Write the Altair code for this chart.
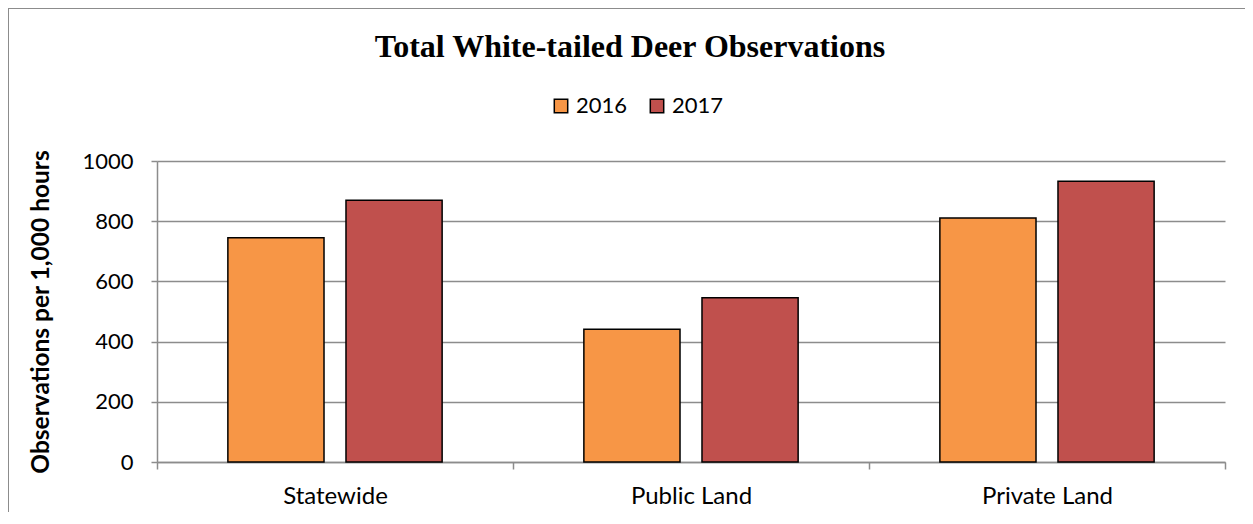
import altair as alt
import pandas as pd

categories = ["Statewide", "Public Land", "Private Land"]
years = ["2016", "2017"]
values_2016 = [745, 441, 811]
values_2017 = [870, 546, 933]
colors = ["#F79646", "#C0504D"]

rows = []
for i, c in enumerate(categories):
    rows.append({"Area": c, "Year": "2016", "Value": values_2016[i]})
    rows.append({"Area": c, "Year": "2017", "Value": values_2017[i]})
df = pd.DataFrame(rows)

FONT = "Lato"
W, H = 1068, 301

bars = alt.Chart(df).mark_bar(stroke="black", strokeWidth=1.5).encode(
    x=alt.X("Area:N", sort=categories, title=None,
            scale=alt.Scale(paddingInner=0, paddingOuter=0),
            axis=alt.Axis(labelAngle=0, tickBand="extent", tickSize=7,
                          labelPadding=15, labelFontSize=24, labelFont=FONT,
                          labelColor="black", domainColor="#8c8c8c",
                          tickColor="#8c8c8c", domainWidth=1.5, tickWidth=1.5,
                          grid=False)),
    xOffset=alt.XOffset("Year:N", sort=years,
                        scale=alt.Scale(paddingInner=0.186, paddingOuter=0.6)),
    y=alt.Y("Value:Q", title="Observations per 1,000 hours",
            scale=alt.Scale(domain=[0, 1000], nice=False),
            axis=alt.Axis(values=[0, 200, 400, 600, 800, 1000], format="d",
                          tickSize=6, labelPadding=18, labelFontSize=22,
                          labelFont=FONT, labelColor="black", titleFont=FONT,
                          titleFontSize=24.5, titleFontWeight="bold",
                          titleColor="black", titlePadding=28,
                          domainColor="#8c8c8c", tickColor="#8c8c8c",
                          domainWidth=1.5, tickWidth=1.5,
                          gridColor="#8c8c8c", gridWidth=1.5)),
    color=alt.Color("Year:N", sort=years,
                    scale=alt.Scale(domain=years, range=colors),
                    legend=alt.Legend(title=None, orient="none", direction="horizontal",
                                      legendX=393, legendY=-66,
                                      symbolType="square", symbolSize=180,
                                      symbolStrokeColor="black", symbolStrokeWidth=1.5,
                                      labelFontSize=22, labelFont=FONT,
                                      labelColor="black", columnPadding=18,
                                      symbolOpacity=1)),
)

border = alt.Chart(alt.Data(values=[{}])).mark_rect(
    fill=None, stroke="#8c8c8c", strokeWidth=2
).encode(
    x=alt.value(-149), x2=alt.value(1400),
    y=alt.value(-153), y2=alt.value(700),
)

chart = alt.layer(bars, border).properties(
    width=W, height=H,
    title=alt.TitleParams("Total White-tailed Deer Observations",
                          font="Liberation Serif", fontSize=32, fontWeight="bold",
                          color="black", anchor="middle", dx=-61, offset=-57),
    padding={"left": 149, "top": 153, "right": 20, "bottom": 50},
    autosize=alt.AutoSizeParams(type="none"),
).configure_view(stroke=None)

chart.save("out.html", embed_options={"renderer": "svg", "actions": False})
